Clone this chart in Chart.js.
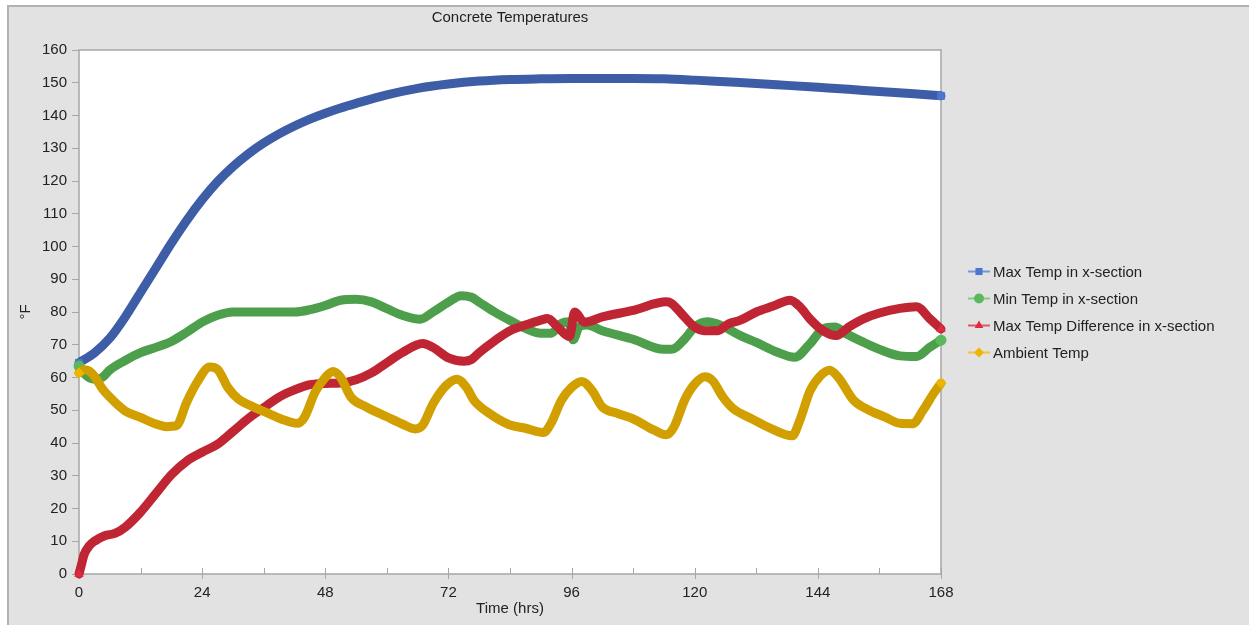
<!DOCTYPE html>
<html>
<head>
<meta charset="utf-8">
<title>Concrete Temperatures</title>
<script src="https://cdn.jsdelivr.net/npm/chart.js@4.4.1/dist/chart.umd.min.js"></script>
<style>
html, body { margin: 0; padding: 0; background: #fff; width: 1249px; height: 625px; overflow: hidden; }
#frame { position: absolute; left: 7px; top: 5px; right: 0; bottom: 0; background: #e2e2e2; border-top: 2px solid #b2b2b2; border-left: 2px solid #b2b2b2; }
#chart { position: absolute; left: 0; top: 0; }
</style>
</head>
<body>
<div id="frame"></div>
<canvas id="chart" width="1249" height="625"></canvas>
<script>
// values (hours / degrees F)
var seriesNames = ["Max Temp in x-section", "Min Temp in x-section", "Max Temp Difference in x-section", "Ambient Temp"];

var maxHours = [0, 3, 6, 9, 12, 15, 18, 21, 24, 27, 30, 33, 36, 39, 42, 45, 48, 51, 54, 60, 66, 72, 78, 84, 90, 96, 102, 108, 114, 120, 126, 132, 138, 144, 150, 156, 162, 168];
var maxTemp = [64.5, 67.5, 72, 78.5, 86, 93.5, 101, 108, 114.3, 119.8, 124.4, 128.3, 131.6, 134.4, 136.8, 138.9, 140.7, 142.3, 143.7, 146.3, 148.3, 149.6, 150.5, 151, 151.2, 151.3, 151.3, 151.3, 151.2, 150.8, 150.3, 149.8, 149.2, 148.6, 148, 147.3, 146.7, 146];

var minHours = [0, 1.5, 3, 4.5, 6, 9, 12, 15, 18, 21, 24, 27, 30, 36, 42, 45, 48, 51, 54, 57, 60, 63, 66.5, 69, 72, 74.5, 76.5, 78, 81, 84, 87, 90, 92, 94, 95.5, 96.3, 97.5, 99, 102, 108, 114, 115.5, 118, 120, 122.4, 125, 128.9, 132, 136, 139.5, 142.4, 145, 147.3, 149.6, 153, 156, 160, 163.2, 165.8, 168];
var minTemp = [63.5, 60.5, 59.5, 60, 62.3, 65.2, 67.6, 69.2, 71, 73.8, 76.9, 79, 80, 80, 80, 80.7, 82, 83.6, 83.9, 83.1, 81, 79, 77.8, 80, 83, 85, 84.5, 83, 80, 77.4, 75, 73.5, 73.5, 76.5, 77, 71.5, 75.5, 76, 74.3, 71.7, 68.6, 68.6, 71.7, 75.4, 77, 76, 72.8, 70.7, 67.8, 66.2, 70.2, 74.8, 75.4, 73.3, 70.7, 68.6, 66.6, 66.4, 69.2, 71.4];

var diffHours = [0, 0.5, 1, 2, 3, 5, 7, 9, 12, 15, 18, 21, 24, 27, 30, 33, 36, 39, 42, 45, 48, 51, 54, 57, 60, 63, 67, 69, 72, 75, 76.5, 78, 81, 84, 87, 90, 91.3, 93.3, 95.6, 96.6, 98.5, 102, 108, 114.5, 115.5, 118, 120, 121.8, 124.4, 126.6, 128.9, 132, 135.3, 138.6, 140.5, 142.4, 145, 147.6, 150, 153, 156, 160, 163.2, 165.8, 168];
var diffTemp = [0, 3, 6, 8.6, 10, 11.7, 12.4, 14.3, 18.9, 24.6, 30.3, 34.5, 37.2, 39.6, 43.5, 47.5, 50.8, 54, 56.2, 57.8, 58.2, 58.3, 59.3, 61.4, 64.5, 67.6, 70.4, 69.2, 66, 65, 65.5, 67.6, 71.2, 74.3, 76, 77.5, 78, 75.4, 72.5, 80, 76.9, 78.5, 80.5, 83.1, 82.6, 78.5, 75.4, 74.3, 74.3, 76.4, 77.5, 80, 81.8, 83.6, 81.6, 78, 74.3, 72.8, 75.4, 78, 79.7, 81.1, 81.6, 78, 74.8];

var ambHours = [0, 1, 2, 3, 4.5, 6, 9, 12, 15, 17, 19, 21, 23, 25.5, 27, 29, 31, 34, 37, 40, 42.5, 44, 46, 48, 49.5, 51, 53, 56, 60, 63, 65.5, 67, 69, 71.5, 73.7, 75.5, 77, 80, 84, 87, 90.5, 92, 94, 96, 98, 100, 102, 105, 108, 112, 114.5, 116, 118, 120, 122, 123.5, 125.5, 127.5, 131, 135, 139, 140.5, 142.5, 144.5, 146.3, 148, 151, 154, 157, 160, 162.5, 164.5, 166.5, 168];
var ambTemp = [61.4, 62.4, 62, 60.4, 56.7, 54, 49.8, 47.8, 45.8, 45, 45.3, 52.5, 58.5, 63.2, 62.5, 57, 53.5, 51, 49, 47, 46, 48, 55.5, 60, 61.8, 60, 54, 51, 48, 45.8, 44.3, 45.5, 52, 57.5, 59.5, 57, 53, 49, 45.5, 44.5, 43.2, 46, 53, 57, 58.8, 56, 51, 49, 47.4, 44, 42.5, 45, 53, 58, 60.2, 59, 54, 50.5, 47.5, 44.3, 42.2, 47, 56, 60.5, 62.2, 60, 53, 50, 48, 46, 45.9, 50, 55, 58.3];

var lineColors = ["#3d5da6", "#4e9f4c", "#bf2533", "#d1a000"];
var markerColors = ["#4a76cf", "#5cb85c", "#dc2b42", "#efb400"];
var legendLineColors = ["#7596dc", "#84cc84", "#e25566", "#f2c441"];
var markerStyles = ["rect", "circle", "triangle", "rectRot"];

var fontFamily = '"Liberation Sans", Arial, sans-serif';
var textColor = "#222";

function pts(hours, vals) {
    return hours.map(function (h, i) { return { x: h, y: vals[i] }; });
}

function makeSet(i, hours, vals, order) {
    return {
        label: seriesNames[i],
        data: pts(hours, vals),
        borderColor: lineColors[i],
        backgroundColor: lineColors[i],
        borderWidth: 9,
        borderJoinStyle: "round",
        borderCapStyle: "round",
        cubicInterpolationMode: "monotone",
        fill: false,
        clip: 8,
        order: order,
        pointStyle: markerStyles[i],
        pointBackgroundColor: markerColors[i],
        pointBorderColor: markerColors[i],
        pointBorderWidth: 0,
        pointRadius: function (ctx) {
            var last = ctx.dataset.data.length - 1;
            return (ctx.dataIndex === 0 || ctx.dataIndex === last) ? 5.5 : 0;
        },
        pointHoverRadius: 0
    };
}

var framePlugin = {
    id: "frame",
    beforeDraw: function (chart) {
        var ctx = chart.ctx, a = chart.chartArea;
        ctx.save();
        ctx.fillStyle = "#ffffff";
        ctx.fillRect(a.left, a.top, a.right - a.left, a.bottom - a.top);
        ctx.restore();
    },
    beforeDatasetsDraw: function (chart) {
        var ctx = chart.ctx, a = chart.chartArea, x = chart.scales.x;
        ctx.save();
        ctx.strokeStyle = "#a6a6a6";
        ctx.lineWidth = 1.5;
        ctx.strokeRect(a.left, a.top, a.right - a.left, a.bottom - a.top);
        ctx.lineWidth = 1;
        ctx.beginPath();
        for (var h = 0; h <= 168; h += 12) {
            var px = Math.round(x.getPixelForValue(h)) + 0.5;
            ctx.moveTo(px, a.bottom - 6);
            ctx.lineTo(px, h % 24 === 0 ? a.bottom + 5 : a.bottom);
        }
        ctx.stroke();
        ctx.restore();
    }
};

var legendPlugin = {
    id: "sideLegend",
    afterDraw: function (chart) {
        var ctx = chart.ctx, a = chart.chartArea;
        var x0 = a.right + 27;
        var rowH = 27;
        var y0 = (a.top + a.bottom) / 2 - rowH * (seriesNames.length - 1) / 2;
        ctx.save();
        ctx.font = "15px " + fontFamily;
        ctx.textBaseline = "middle";
        ctx.textAlign = "left";
        seriesNames.forEach(function (name, i) {
            var y = y0 + i * rowH;
            ctx.strokeStyle = legendLineColors[i];
            ctx.lineWidth = 2;
            ctx.beginPath();
            ctx.moveTo(x0, y);
            ctx.lineTo(x0 + 22, y);
            ctx.stroke();
            ctx.fillStyle = markerColors[i];
            Chart.helpers.drawPoint(ctx, { pointStyle: markerStyles[i], radius: 5, rotation: 0, borderWidth: 0 }, x0 + 11, y);
            ctx.fillStyle = textColor;
            ctx.fillText(name, x0 + 25, y + 1);
        });
        ctx.restore();
    }
};

new Chart(document.getElementById("chart").getContext("2d"), {
    type: "line",
    data: {
        datasets: [
            makeSet(0, maxHours, maxTemp, 4),
            makeSet(1, minHours, minTemp, 3),
            makeSet(2, diffHours, diffTemp, 2),
            makeSet(3, ambHours, ambTemp, 1)
        ]
    },
    options: {
        responsive: false,
        animation: false,
        events: [],
        layout: { padding: { left: 0, right: 308, top: 0, bottom: 0 } },
        plugins: {
            legend: { display: false },
            tooltip: { enabled: false },
            title: {
                display: true,
                text: "Concrete Temperatures",
                fullSize: false,
                color: "#1e1e1e",
                font: { family: fontFamily, size: 15, weight: "normal" },
                padding: { top: 8.5, bottom: 23.5 }
            }
        },
        scales: {
            x: {
                type: "linear",
                min: 0,
                max: 168,
                afterFit: function (s) { s.height = 51; },
                border: { display: false },
                grid: { display: false, drawTicks: false },
                ticks: { stepSize: 24, padding: 10, color: textColor, maxRotation: 0, autoSkip: false, font: { family: fontFamily, size: 15 } },
                title: { display: true, text: "Time (hrs)", color: textColor, font: { family: fontFamily, size: 15 }, padding: { top: 0, bottom: 7 } }
            },
            y: {
                min: 0,
                max: 160,
                afterFit: function (s) { s.width = 79; },
                border: { display: false },
                grid: { drawOnChartArea: false, drawTicks: true, tickLength: 7, color: "#a6a6a6" },
                ticks: { stepSize: 10, padding: 5, color: textColor, font: { family: fontFamily, size: 15 } },
                title: { display: true, text: "°F", color: textColor, font: { family: fontFamily, size: 15 }, padding: { top: 17, bottom: 0 } }
            }
        }
    },
    plugins: [framePlugin, legendPlugin]
});
</script>
</body>
</html>
